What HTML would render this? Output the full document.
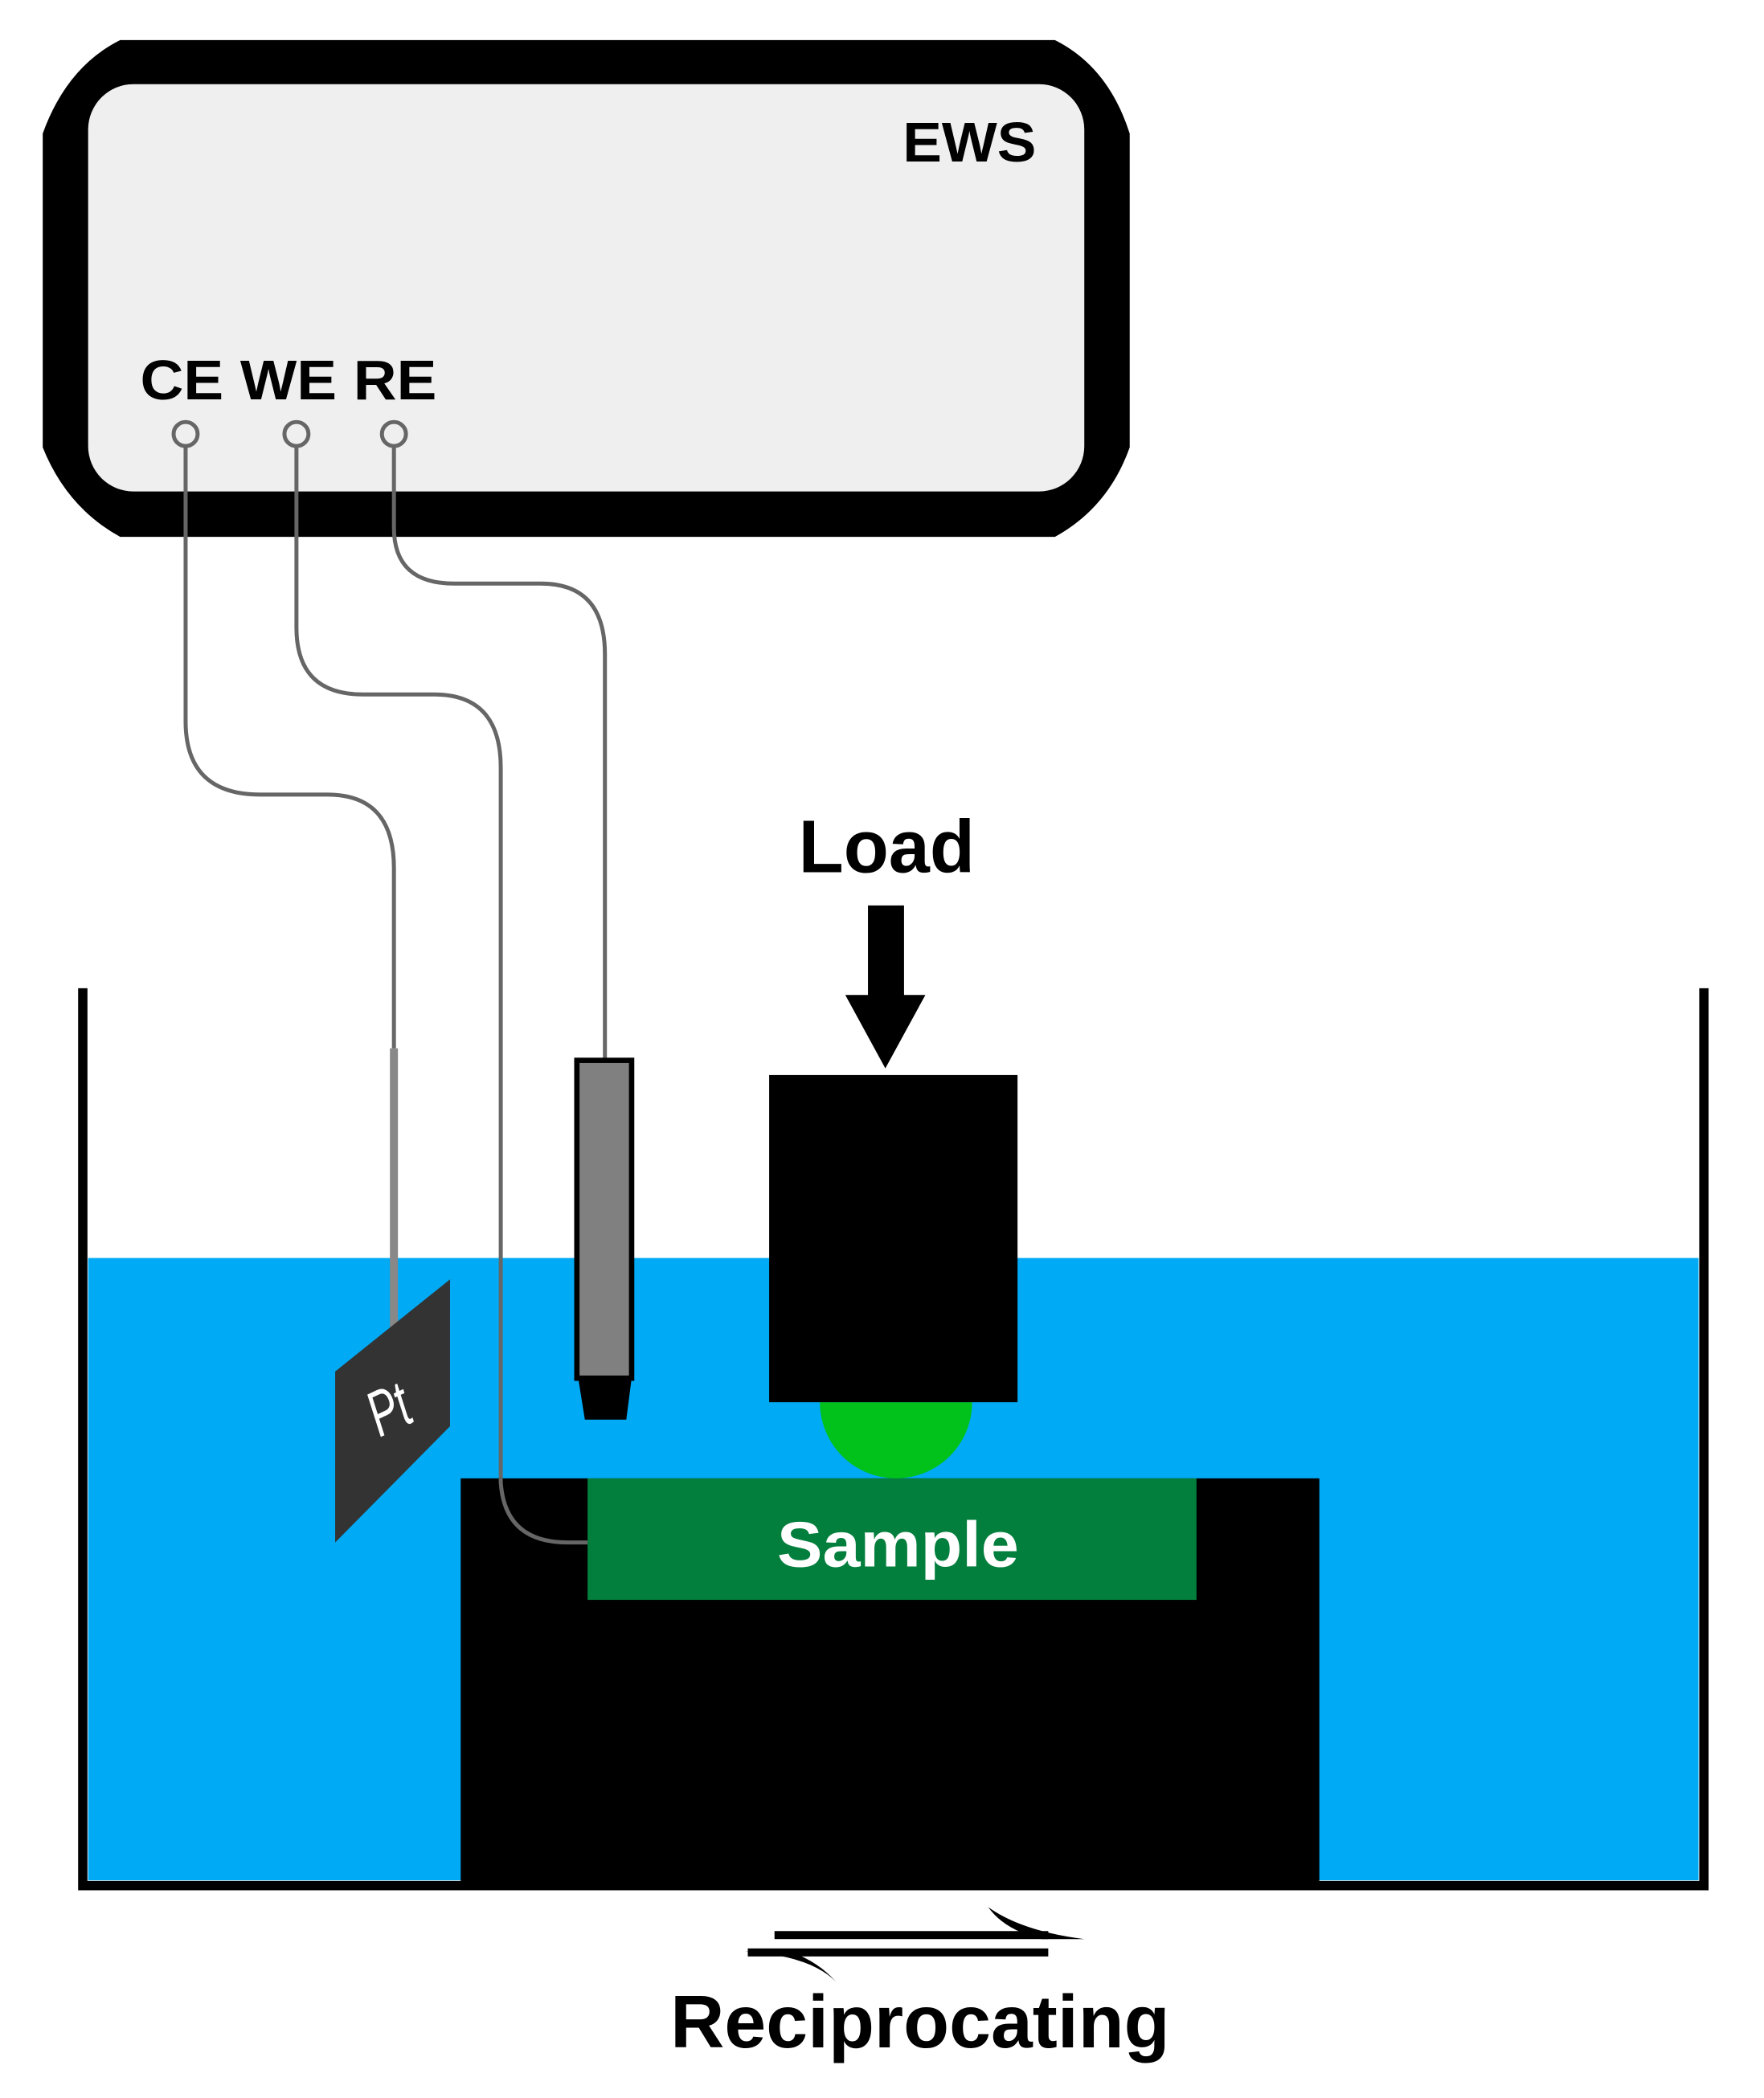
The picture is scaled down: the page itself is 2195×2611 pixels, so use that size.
<!DOCTYPE html>
<html><head><meta charset="utf-8"><style>html,body{margin:0;padding:0;background:#fff}svg{display:block}</style></head>
<body>
<svg width="2195" height="2611" viewBox="0 0 1321 1571" preserveAspectRatio="none" xmlns="http://www.w3.org/2000/svg">
<rect width="1321" height="1571" fill="#fff"/>
<path d="M90,30 H790 Q830,50 846,100 V335 Q830,380 790,402 H90 Q50,380 32,335 V100 Q50,50 90,30 Z" fill="#000"/>
<rect x="66" y="63" width="746" height="305" rx="34" fill="#efefef"/>
<g font-family="Liberation Sans, sans-serif" font-weight="bold">
<text x="676" y="121" font-size="42" textLength="100" lengthAdjust="spacingAndGlyphs">EWS</text>
<text x="105" y="299" font-size="42" textLength="222" lengthAdjust="spacingAndGlyphs">CE WE RE</text>
</g>
<g fill="none" stroke="#666" stroke-width="3">
<path d="M139,334 V540 Q139,595 195,595 H245 Q295,595 295,650 V785"/>
<path d="M222,334 V470 Q222,520 272,520 H325 Q375,520 375,575 V1105 Q375,1155 425,1155 H440"/>
<path d="M295,334 V395 Q295,437 340,437 H405 Q453,437 453,490 V793"/>
<circle cx="139" cy="325" r="9" fill="#efefef"/>
<circle cx="222" cy="325" r="9" fill="#efefef"/>
<circle cx="295" cy="325" r="9" fill="#efefef"/>
</g>
<rect x="66" y="942" width="1206" height="466" fill="#00aaf5"/>
<line x1="295" y1="785" x2="295" y2="995" stroke="#888" stroke-width="6"/>
<path d="M375,942 V1105 Q375,1155 425,1155 H440" fill="none" stroke="#666" stroke-width="3"/>
<path d="M62,740 V1412 H1276 V740" fill="none" stroke="#000" stroke-width="7"/>
<rect x="345" y="1107" width="643" height="303" fill="#000"/>
<rect x="440" y="1107" width="456" height="91" fill="#037f3d"/>
<path d="M375,1107 V1110 Q378,1155 425,1155 H440" fill="none" stroke="#666" stroke-width="3"/>
<text x="582" y="1173" font-family="Liberation Sans, sans-serif" font-weight="bold" font-size="48" fill="#fff" textLength="181" lengthAdjust="spacingAndGlyphs">Sample</text>
<path d="M614,1050 A57,57 0 0 0 728,1050 Z" fill="#00c21a"/>
<rect x="576" y="805" width="186" height="245" fill="#000"/>
<rect x="650" y="678" width="27" height="70" fill="#000"/>
<polygon points="633,745 693,745 663,800" fill="#000"/>
<text x="598" y="653" font-family="Liberation Sans, sans-serif" font-weight="bold" font-size="56" textLength="132" lengthAdjust="spacingAndGlyphs">Load</text>
<rect x="432" y="794" width="41" height="238" fill="#808080" stroke="#000" stroke-width="4"/>
<polygon points="433,1032 473,1032 469,1063 438,1063" fill="#000"/>
<polygon points="251,1027 337,958 337,1068 251,1155" fill="#333"/>
<text x="0" y="0" transform="translate(298,1070) rotate(-25) scale(0.8,1.2)" font-family="Liberation Sans, sans-serif" font-style="italic" font-size="40" fill="#fff" text-anchor="middle">Pt</text>
<g fill="#000">
<rect x="580" y="1446" width="205" height="6"/>
<path d="M740,1428 Q765,1446 812,1452 L780,1452 Q752,1445 740,1428 Z"/>
<rect x="560" y="1459" width="225" height="6"/>
<path d="M558,1461 Q608,1465 626,1484 Q612,1468 590,1461 Z"/>
</g>
<text x="502" y="1533" font-family="Liberation Sans, sans-serif" font-weight="bold" font-size="56" textLength="374" lengthAdjust="spacingAndGlyphs">Reciprocating</text>
</svg>
</body></html>
